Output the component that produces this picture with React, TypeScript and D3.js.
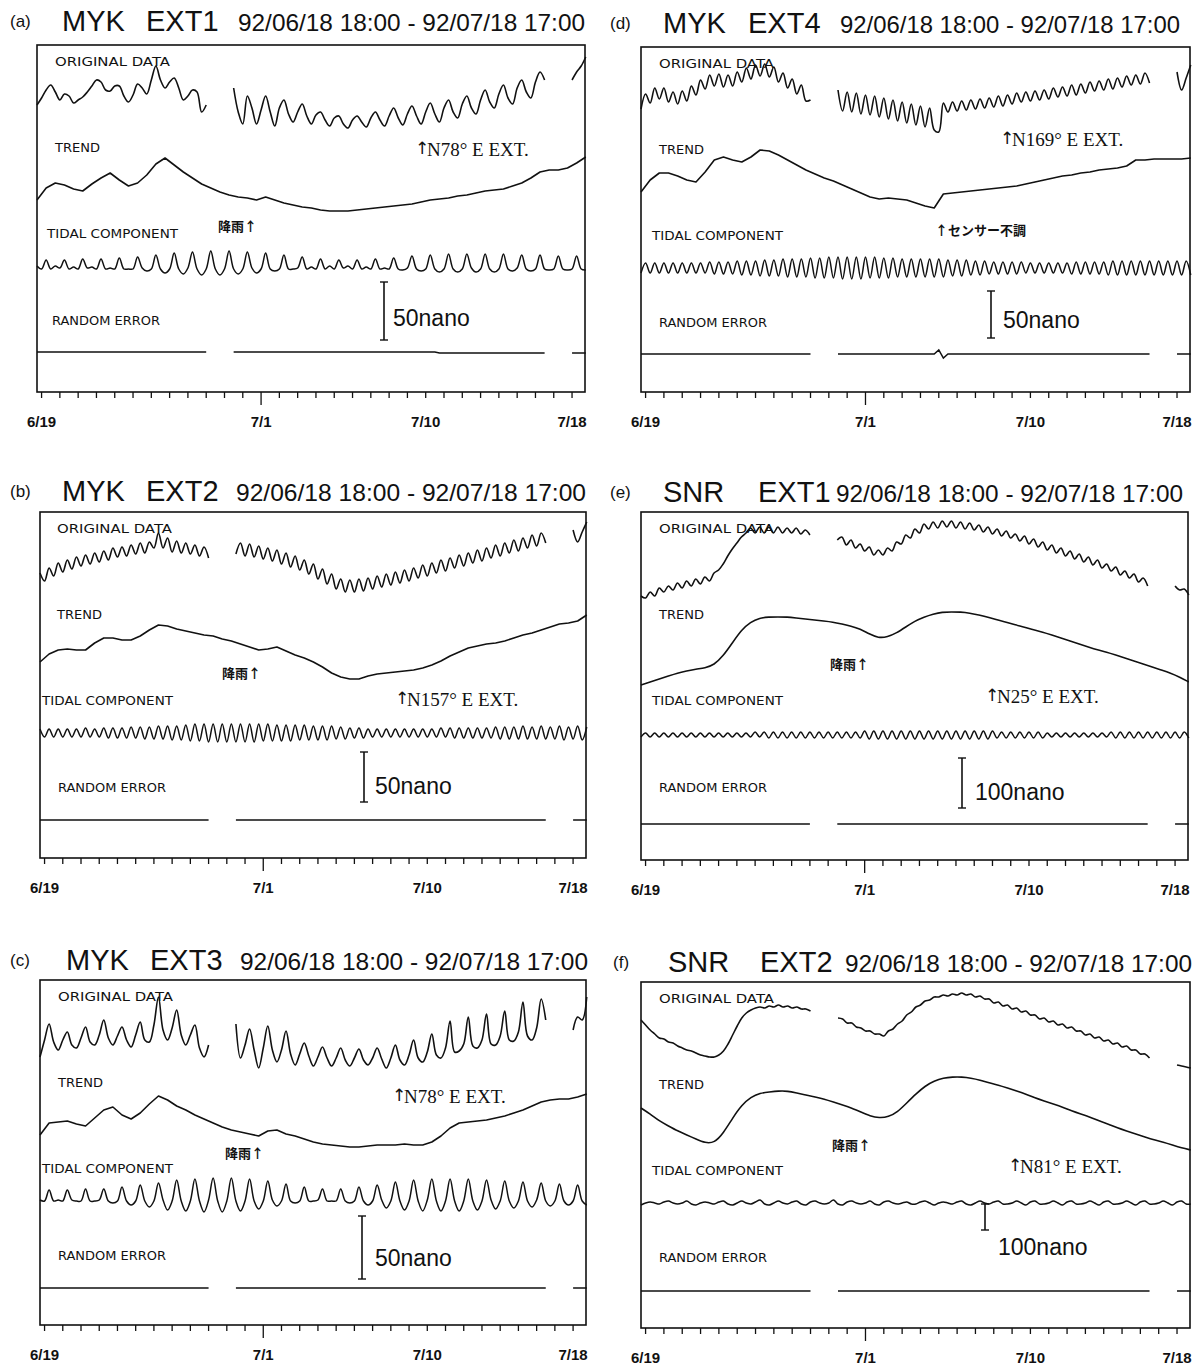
import React from "react";
import * as d3 from "d3";

// ---------- time frame ----------
const START = new Date(1992, 5, 18, 18, 0);
const END = new Date(1992, 6, 18, 17, 0);
const SAMPLE_H = 6; // original / tidal / random error sampling step (hours)
const TREND_H = 12; // trend sampling step (hours)

const labelDates = [new Date(1992, 5, 19), new Date(1992, 6, 1), new Date(1992, 6, 10), new Date(1992, 6, 18)];
const longTickDate = new Date(1992, 6, 1);

// ---------- panel texts ----------
const panelLetters = ["(a)", "(b)", "(c)", "(d)", "(e)", "(f)"];
const stations = ["MYK", "MYK", "MYK", "MYK", "SNR", "SNR"];
const sensors = ["EXT1", "EXT2", "EXT3", "EXT4", "EXT1", "EXT2"];
const directions = ["N78° E EXT.", "N157° E EXT.", "N78° E EXT.", "N169° E EXT.", "N25° E EXT.", "N81° E EXT."];
const notes = ["降雨↑", "降雨↑", "降雨↑", "↑センサー不調", "降雨↑", "降雨↑"];
const scaleNano = [50, 50, 50, 50, 100, 100];
const scaleUnits = [58, 50, 63, 47, 50, 26]; // scale bar length in digitised units
const seriesNames = ["ORIGINAL DATA", "TREND", "TIDAL COMPONENT", "RANDOM ERROR"];

// ---------- data (digitised units, 6-hour samples; null = no data) ----------
const origA = [
  20, 27, 35, 40, 33, 25, 31, 29, 22, 25, 28, 33, 39, 45, 43, 35, 34, 39, 39, 29, 23, 30, 41, 37, 31, 45, 59, 45, 37, 43, 47, 37, 25, 29, 35, 33, 13, 20,
  null, null, null, null, null,
  37, 13, 1, 29, 17, 1, 15, 29, 13, -1, 17, 25, 11, 3, 13, 21, 9, 1, 10, 13, 5, -1, 7, 9, 1, -3, 5, 9, 3, -2, 7, 13, 5, -1, 9,
  17, 7, 0, 11, 19, 9, 1, 13, 22, 11, 3, 17, 25, 13, 7, 21, 29, 17, 11, 25, 35, 23, 17, 31, 40, 27, 21, 37, 45, 33, 27, 43, 53, 45,
  null, null, null, null, null,
  45, 53, 59, 68,
];
const trendA = [15, 27, 32, 30, 26, 24, 31, 37, 42, 35, 29, 32, 40, 51, 57, 50, 43, 37, 31, 27, 23, 20, 18, 17, 15, 18, 15, 12, 10, 8, 7, 5, 4, 4, 4, 5, 6, 7, 8, 9, 10, 11, 13, 15, 16, 17, 19, 20, 22, 24, 25, 26, 29, 32, 37, 43, 45, 45, 47, 52, 58];
const tidalA = [
  0, -3, 6, -3, 0, -2, 6, -3, -1, -3, 7, -2, -1, -3, 7, -3, -2, -3, 8, -3, -3, -3, 9, -2, -5, -3, 11, -3, -7, -3, 13, -3, -8, -2, 14, -3, -9, -3, 15, -3,
  -9, -3, 15, -3, -8, -3, 14, -2, -7, -3, 13, -3, -5, -3, 11, -3, -3, -2, 9, -3, -1, -3, 7, -3, 0, -3, 6, -2, 0, -3, 6, -3, -1, -3, 7, -3, -2, -3, 8, -3,
  -4, -2, 10, -3, -5, -3, 11, -3, -6, -3, 12, -3, -6, -3, 12, -2, -6, -3, 12, -3, -6, -3, 12, -3, -5, -2, 11, -3, -5, -3, 11, -3, -4, -3, 10, -3, -4, -3, 10, -3,
  -4,
];
const errA = [
  0, 0, 0, 0, 0, 0, 0, 0, 0, 0, 0, 0, 0, 0, 0, 0, 0, 0, 0, 0, 0, 0, 0, 0, 0, 0, 0, 0, 0, 0, 0, 0, 0, 0, 0, 0, 0, 0,
  null, null, null, null, null,
  0, 0, 0, 0, 0, 0, 0, 0, 0, 0, 0, 0, 0, 0, 0, 0, 0, 0, 0, 0, 0, 0, 0, 0, 0, 0, 0, 0, 0, 0, 0, 0, 0, 0, 0, 0, 0, 0, 0, 0,
  0, 0, 0, 0, 0, -1, -1, -1, -1, -1, -1, -1, -1, -1, -1, -1, -1, -1, -1, -1, -1, -1, -1, -1, -1, -1, -1, -1, -1,
  null, null, null, null, null,
  -1, -1, -1, -1,
];

const origB = [
  27, 19, 32, 24, 37, 28, 40, 31, 43, 34, 45, 36, 47, 38, 49, 40, 52, 43, 53, 44, 55, 46, 57, 47, 58, 52, 67, 52, 62, 48, 59, 47, 57, 46, 55, 44, 53, 42,
  null, null, null, null, null,
  46, 57, 44, 56, 43, 54, 41, 52, 39, 50, 36, 47, 33, 44, 30, 40, 26, 36, 21, 31, 16, 26, 11, 21, 8, 20, 8, 21, 9, 22, 11, 24, 13, 26, 15,
  28, 17, 30, 19, 32, 22, 35, 24, 37, 27, 40, 29, 42, 32, 45, 34, 47, 37, 50, 39, 52, 42, 55, 44, 57, 47, 60, 49, 62, 52, 65, 54, 67, 57,
  null, null, null, null, null,
  70, 58, 68, 78,
];
const trendB = [28, 36, 40, 41, 40, 40, 47, 52, 52, 50, 50, 54, 60, 65, 64, 61, 59, 57, 55, 54, 51, 49, 46, 43, 40, 41, 43, 39, 35, 32, 28, 23, 17, 13, 11, 11, 14, 16, 17, 18, 19, 20, 22, 25, 29, 34, 38, 42, 44, 46, 47, 49, 52, 55, 57, 60, 63, 66, 67, 69, 75];
const tidalB = [
  4, -4, 4, -4, 4, -4, 4, -4, 4, -4, 5, -4, 4, -4, 5, -5,
  5, -5, 5, -5, 6, -5, 6, -6, 6, -6, 7, -6, 7, -7, 7, -7,
  8, -8, 9, -8, 9, -9, 9, -9, 9, -9, 9, -9, 9, -9, 9, -9, 9, -8, 9, -8, 8, -8, 8, -8, 8, -7, 8, -7, 7, -7, 7, -7, 7, -6, 6, -6,
  5, -5, 5, -5, 4, -4, 4, -4, 4, -4, 4, -4, 4, -4, 4, -4, 4, -4, 4, -4, 5, -4, 5, -5, 5, -5, 5, -5, 5, -5, 5, -5,
  6, -6, 6, -6, 6, -6, 7, -6, 6, -6, 7, -6, 6, -6, 7, -7, 6, -6, 7, -7, 6,
];
const errB = [
  0, 0, 0, 0, 0, 0, 0, 0, 0, 0, 0, 0, 0, 0, 0, 0, 0, 0, 0, 0, 0, 0, 0, 0, 0, 0, 0, 0, 0, 0, 0, 0, 0, 0, 0, 0, 0, 0,
  null, null, null, null, null,
  0, 0, 0, 0, 0, 0, 0, 0, 0, 0, 0, 0, 0, 0, 0, 0, 0, 0, 0, 0, 0, 0, 0, 0, 0, 0, 0, 0, 0, 0, 0, 0, 0, 0, 0, 0, 0, 0, 0, 0,
  0, 0, 0, 0, 0, 0, 0, 0, 0, 0, 0, 0, 0, 0, 0, 0, 0, 0, 0, 0, 0, 0, 0, 0, 0, 0, 0, 0, 0,
  null, null, null, null, null,
  0, 0, 0, 0,
];

const origC = [
  3, 20, 36, 18, 10, 20, 28, 15, 12, 22, 33, 18, 15, 25, 40, 22, 15, 24, 33, 20, 13, 25, 38, 20, 18, 35, 63, 30, 20, 32, 50, 25, 15, 25, 35, 12, 3, 15,
  null, null, null, null, null,
  36, 2, 15, 31, 10, -8, 12, 34, 10, -2, 10, 29, 6, -5, 6, 17, 4, -6, 3, 13, 2, -6, 2, 12, 0, -6, 2, 11, 0, -5, 2, 12, 1,
  -8, 2, 15, 0, -5, 5, 20, 2, -2, 8, 26, 5, 2, 12, 39, 8, 9, 16, 43, 14, 12, 20, 46, 16, 15, 24, 49, 20, 19, 28, 58, 24, 20, 32, 61, 40,
  null, null, null, null, null,
  30, 43, 40, 63,
];
const trendC = [25, 37, 38, 39, 36, 34, 42, 50, 53, 45, 41, 47, 56, 64, 60, 54, 50, 45, 41, 37, 33, 30, 28, 26, 24, 29, 30, 26, 24, 21, 18, 16, 15, 14, 13, 13, 14, 15, 15, 15, 16, 15, 15, 18, 24, 32, 37, 38, 39, 40, 42, 44, 47, 50, 54, 58, 60, 61, 61, 63, 66];
const tidalC = [
  -2, -3, 8, -3, -2, -3, 8, -2, -3, -3, 9, -3, -3, -2, 9, -3, -5, -3, 11, -3, -7, -3, 13, -3, -9, -3, 15, -2, -12, -3, 18, -3, -13, -3, 19, -3, -14, -2, 20, -3,
  -14, -3, 20, -3, -13, -3, 19, -3, -11, -3, 17, -2, -8, -3, 14, -3, -5, -3, 11, -3, -3, -2, 9, -3, -3, -3, 9, -3, -5, -3, 11, -3, -7, -3, 13, -2, -10, -3, 16, -3,
  -12, -3, 18, -3, -13, -2, 19, -3, -13, -3, 19, -3, -13, -3, 19, -3, -12, -3, 18, -2, -11, -3, 17, -3, -10, -3, 16, -3, -9, -2, 15, -3, -8, -3, 14, -3, -7, -3, 13, -3,
  -7,
];
const errC = [
  0, 0, 0, 0, 0, 0, 0, 0, 0, 0, 0, 0, 0, 0, 0, 0, 0, 0, 0, 0, 0, 0, 0, 0, 0, 0, 0, 0, 0, 0, 0, 0, 0, 0, 0, 0, 0, 0,
  null, null, null, null, null,
  0, 0, 0, 0, 0, 0, 0, 0, 0, 0, 0, 0, 0, 0, 0, 0, 0, 0, 0, 0, 0, 0, 0, 0, 0, 0, 0, 0, 0, 0, 0, 0, 0, 0, 0, 0, 0, 0, 0, 0,
  0, 0, 0, 0, 0, 0, 0, 0, 0, 0, 0, 0, 0, 0, 0, 0, 0, 0, 0, 0, 0, 0, 0, 0, 0, 0, 0, 0, 0,
  null, null, null, null, null,
  0, 0, 0, 0,
];

const origD = [
  31, 46, 37, 52, 41, 52, 38, 48, 36, 49, 39, 54, 45, 60, 51, 65, 54, 66, 53, 65, 54, 68, 58, 72, 61, 75, 64, 76, 63, 73, 58, 67, 52, 61, 46, 55, 39, 40,
  null, null, null, null, null,
  50, 29, 48, 28, 47, 26, 45, 25, 44, 23, 42, 21, 40, 19, 38, 17, 36, 15, 34, 13, 32, 10, 8, 37, 28, 38, 29, 39, 30, 40, 31, 41, 32, 42, 33,
  44, 34, 45, 36, 47, 38, 48, 39, 49, 40, 50, 41, 52, 43, 53, 44, 55, 45, 56, 47, 58, 49, 59, 50, 61, 51, 62, 53, 64, 55, 65, 56, 67, 57,
  null, null, null, null, null,
  68, 50, 62, 75,
];
const trendD = [23, 35, 42, 42, 39, 35, 33, 43, 55, 58, 55, 53, 58, 65, 64, 60, 55, 50, 45, 41, 37, 34, 30, 26, 22, 18, 16, 17, 16, 15, 12, 9, 7, 21, 22, 23, 24, 25, 26, 27, 28, 29, 31, 33, 35, 37, 39, 40, 42, 43, 45, 46, 47, 49, 55, 55, 56, 56, 56, 56, 57];
const tidalD = [
  -5, 5, -5, 5, -5, 5, -5, 5, -5, 5, -5, 5, -5, 5, -5, 6, -6, 6, -6, 6, -6, 7, -7, 7,
  -7, 7, -8, 8, -8, 8, -8, 9, -9, 9, -9, 9,
  -9, 10, -10, 10, -10, 11, -10, 11, -11, 11, -11, 11, -11, 11, -10, 11, -10, 10, -10, 10, -9, 9, -9, 9, -9, 9, -9, 9, -9, 9, -9, 8, -8, 8, -8, 8,
  -7, 7, -7, 7, -6, 6, -6, 6, -6, 6, -6, 6, -5, 5, -5, 5, -5, 5, -5, 5, -5, 5, -6, 6, -6, 6, -6, 6,
  -6, 6, -7, 7, -7, 7, -7, 7, -7, 7, -7, 7, -7, 7, -7, 7, -7, 7, -7, 7, -7,
];
const errD = [
  0, 0, 0, 0, 0, 0, 0, 0, 0, 0, 0, 0, 0, 0, 0, 0, 0, 0, 0, 0, 0, 0, 0, 0, 0, 0, 0, 0, 0, 0, 0, 0, 0, 0, 0, 0, 0, 0,
  null, null, null, null, null,
  0, 0, 0, 0, 0, 0, 0, 0, 0, 0, 0, 0, 0, 0, 0, 0, 0, 0, 0, 0, 0, 0, 4, -4, 0, 0, 0, 0, 0, 0, 0, 0, 0, 0, 0, 0, 0, 0, 0,
  0, 0, 0, 0, 0, 0, 0, 0, 0, 0, 0, 0, 0, 0, 0, 0, 0, 0, 0, 0, 0, 0, 0, 0, 0, 0, 0, 0, 0, 0,
  null, null, null, null, null,
  0, 0, 0, 0,
];

const origE = [
  4, 2, 8, 4, 12, 8, 14, 10, 17, 12, 19, 14, 21, 16, 23, 19, 27, 30, 36, 44, 51, 57, 63, 67, 72, 67, 73, 67, 73, 67, 73, 67, 72, 67, 72, 66, 70, 65,
  null, null, null, null, null,
  60, 63, 55, 60, 52, 56, 49, 53, 45, 50, 45, 52, 49, 58, 56, 65, 62, 71, 67, 76, 71, 78, 72, 79, 73, 79, 72, 78, 71, 77, 70, 75, 68, 73, 66,
  71, 64, 69, 62, 66, 59, 64, 56, 61, 53, 58, 50, 55, 47, 52, 44, 49, 41, 46, 38, 43, 35, 40, 32, 36, 29, 33, 25, 29, 22, 26, 18, 22, 14,
  null, null, null, null, null,
  14, 10, 11, 5,
];
const trendE = [5, 8, 11, 14, 17, 19, 21, 22, 25, 34, 47, 60, 68, 72, 73, 73, 73, 72, 71, 70, 69, 68, 66, 64, 61, 56, 52, 53, 57, 63, 69, 73, 76, 78, 78, 78, 77, 75, 73, 70, 68, 65, 63, 60, 58, 55, 52, 49, 46, 43, 40, 38, 35, 32, 29, 26, 23, 20, 17, 13, 8];
const tidalE = [
  -2, 2, -2, 2, -2, 2, -2, 2, -2, 2, -2, 2, -2, 2, -2, 2, -2, 2, -2, 2, -2, 2, -2, 2, -2, 3, -2, 3, -3, 3, -3, 3, -3, 3, -3, 3, -3, 3, -3, 3, -3, 3, -3, 3, -3, 3, -3, 3,
  -3, 4, -4, 4, -4, 4, -4, 4, -4, 4, -4, 4, -4, 4, -4, 4, -4, 4, -4, 4, -4, 4, -4, 4, -4, 4, -4, 4, -4, 4, -3, 3, -3, 3, -3, 3, -3, 3, -3, 3,
  -3, 2, -2, 2, -2, 2, -2, 2, -2, 2, -2, 2, -2, 2, -2, 3,
  -3, 3, -3, 3, -3, 3, -3, 3, -3, 3, -3, 3, -3, 3, -3, 3, -3,
];
const errE = [
  0, 0, 0, 0, 0, 0, 0, 0, 0, 0, 0, 0, 0, 0, 0, 0, 0, 0, 0, 0, 0, 0, 0, 0, 0, 0, 0, 0, 0, 0, 0, 0, 0, 0, 0, 0, 0, 0,
  null, null, null, null, null,
  0, 0, 0, 0, 0, 0, 0, 0, 0, 0, 0, 0, 0, 0, 0, 0, 0, 0, 0, 0, 0, 0, 0, 0, 0, 0, 0, 0, 0, 0, 0, 0, 0, 0, 0, 0, 0, 0, 0, 0,
  0, 0, 0, 0, 0, 0, 0, 0, 0, 0, 0, 0, 0, 0, 0, 0, 0, 0, 0, 0, 0, 0, 0, 0, 0, 0, 0, 0, 0,
  null, null, null, null, null,
  0, 0, 0, 0,
];

const origF = [
  50, 45, 40, 36, 32, 31, 28, 27, 24, 22, 20, 19, 17, 15, 14, 13, 13, 15, 19, 26, 35, 44, 52, 57, 60, 62, 63, 62, 64, 63, 65, 63, 64, 62, 63, 61, 61, 59,
  null, null, null, null, null,
  52, 51, 47, 47, 43, 42, 39, 39, 36, 36, 34, 39, 41, 46, 49, 55, 58, 63, 65, 69, 70, 73, 73, 75, 74, 76, 75, 77, 75, 76, 73, 74, 71, 71, 67,
  68, 64, 65, 61, 62, 58, 59, 55, 55, 51, 52, 48, 49, 45, 46, 42, 43, 39, 39, 35, 36, 32, 33, 29, 30, 26, 27, 23, 24, 20, 20, 16, 16, 12,
  null, null, null, null, null,
  5, 4, 3, 2,
];
const trendF = [47, 41, 34, 29, 24, 20, 16, 12, 12, 22, 37, 50, 58, 62, 63, 64, 64, 62, 60, 58, 56, 53, 50, 47, 43, 39, 37, 38, 43, 52, 61, 69, 74, 77, 78, 78, 77, 75, 72, 70, 67, 64, 61, 57, 54, 51, 48, 44, 41, 38, 34, 31, 27, 24, 21, 18, 15, 13, 10, 7, 5];
const tidalF = [
  -2, 0, 1, 0, -1, 1, 2, 0, -1, 0, 2, -1, -2, 0, 1, 0, -1, 1, 2, -1, -2, 0, 2, 0, -1, 1, 3, -1, -2, 0, 2, 0, -1, 1, 2, -1, -2, 1, 2, 0,
  -1, 0, 3, -1, -2, 1, 2, 0, -1, 0, 2, -1, -2, 1, 2, 0, -1, 0, 1, -1, -1, 1, 2, 0, -2, 0, 1, 0, -1, 1, 2, -1, -2, 0, 2, 0, -1, 1, 2, -1,
  -1, 0, 2, 0, -2, 1, 2, -1, -1, 0, 2, 0, -2, 1, 2, -1, -1, 0, 2, 0, -2, 1, 2, -1, -1, 0, 2, 0, -2, 1, 2, -1, -1, 0, 2, 0, -2, 1, 2, -1,
  -1,
];
const errF = [
  0, 0, 0, 0, 0, 0, 0, 0, 0, 0, 0, 0, 0, 0, 0, 0, 0, 0, 0, 0, 0, 0, 0, 0, 0, 0, 0, 0, 0, 0, 0, 0, 0, 0, 0, 0, 0, 0,
  null, null, null, null, null,
  0, 0, 0, 0, 0, 0, 0, 0, 0, 0, 0, 0, 0, 0, 0, 0, 0, 0, 0, 0, 0, 0, 0, 0, 0, 0, 0, 0, 0, 0, 0, 0, 0, 0, 0, 0, 0, 0, 0, 0,
  0, 0, 0, 0, 0, 0, 0, 0, 0, 0, 0, 0, 0, 0, 0, 0, 0, 0, 0, 0, 0, 0, 0, 0, 0, 0, 0, 0, 0,
  null, null, null, null, null,
  0, 0, 0, 0,
];

const originals = [origA, origB, origC, origD, origE, origF];
const trends = [trendA, trendB, trendC, trendD, trendE, trendF];
const tidals = [tidalA, tidalB, tidalC, tidalD, tidalE, tidalF];
const errors = [errA, errB, errC, errD, errE, errF];

// ---------- layout (positions only) ----------
type Layout = {
  x0: number; top: number; w: number; h: number;
  titleY: number; letterX: number; stationX: number; sensorX: number; dateX: number; dateW: number;
  base: number[]; labelX: number[];
  dir: number[]; note: number[]; bar: number[]; barLabel: number[];
  smoothTrend: boolean;
};
const LAYOUT: Layout[] = [
  { x0: 37, top: 45, w: 548, h: 347, titleY: 21, letterX: 10, stationX: 62, sensorX: 146, dateX: 238, dateW: 347,
    base: [80, 170, 221, 307], labelX: [18, 18, 10, 15], dir: [415, 148], note: [218, 225], bar: [384, 282], barLabel: [393, 318], smoothTrend: false },
  { x0: 40, top: 512, w: 546, h: 346, titleY: 491, letterX: 10, stationX: 62, sensorX: 146, dateX: 236, dateW: 350,
    base: [88, 178, 221, 308], labelX: [17, 17, 2, 18], dir: [395, 698], note: [222, 672], bar: [364, 752], barLabel: [375, 786], smoothTrend: false },
  { x0: 40, top: 980, w: 546, h: 345, titleY: 960, letterX: 10, stationX: 66, sensorX: 150, dateX: 240, dateW: 348,
    base: [80, 180, 218, 308], labelX: [18, 18, 2, 18], dir: [392, 1095], note: [225, 1152], bar: [362, 1216], barLabel: [375, 1258], smoothTrend: false },
  { x0: 641, top: 47, w: 549, h: 345, titleY: 23, letterX: 610, stationX: 663, sensorX: 748, dateX: 840, dateW: 340,
    base: [93, 168, 221, 307], labelX: [18, 18, 11, 18], dir: [1000, 138], note: [935, 229], bar: [991, 291], barLabel: [1003, 320], smoothTrend: false },
  { x0: 641, top: 512, w: 547, h: 348, titleY: 492, letterX: 610, stationX: 663, sensorX: 758, dateX: 836, dateW: 347,
    base: [88, 178, 223, 312], labelX: [18, 18, 11, 18], dir: [985, 695], note: [830, 663], bar: [962, 758], barLabel: [975, 792], smoothTrend: true },
  { x0: 641, top: 982, w: 549, h: 346, titleY: 962, letterX: 613, stationX: 668, sensorX: 760, dateX: 845, dateW: 347,
    base: [88, 173, 221, 309], labelX: [18, 18, 11, 18], dir: [1008, 1165], note: [832, 1144], bar: [985, 1204], barLabel: [998, 1247], smoothTrend: true },
];
const LABEL_Y = [17, 103, 189, 276];
const LABEL_W = [115, 45, 131, 108];

const SANS = "'Liberation Sans', Arial, Helvetica, sans-serif";
const SERIF = "'Liberation Serif', 'Times New Roman', serif";
const PLOT = "'DejaVu Sans', 'Liberation Sans', sans-serif";
const CJK = "'Noto Sans CJK JP', 'Noto Sans CJK SC', sans-serif";
const INK = "#111";

const fmtTitle = d3.timeFormat("%y/%m/%d %H:%M");
const fmtTick = d3.timeFormat("%-m/%-d");

function Panel({ i }: { i: number }) {
  const L = LAYOUT[i];
  const x = d3.scaleTime().domain([START, END]).range([L.x0, L.x0 + L.w]);
  const bottom = L.top + L.h;
  const band = (rel: number) => d3.scaleLinear().domain([0, 1]).range([L.top + rel, L.top + rel - 1]);
  const yO = band(L.base[0]);
  const yT = band(L.base[1]);
  const yD = band(L.base[2]);
  const yE = band(L.base[3]);

  const path = (arr: (number | null)[], stepH: number, y: d3.ScaleLinear<number, number>, curve: d3.CurveFactory) =>
    d3
      .line<number | null>()
      .defined((d) => d !== null)
      .x((_, k) => x(d3.timeHour.offset(START, k * stepH)))
      .y((d) => y(d as number))
      .curve(curve)(arr) || "";

  const wiggle = d3.curveCatmullRom.alpha(0.5);
  const ticks = d3.timeDay.range(d3.timeDay.ceil(START), END);
  const barLen = yE(0) - yE(scaleUnits[i]);
  const [bx, by] = L.bar;
  const dateText = `${fmtTitle(START)} - ${fmtTitle(END)}`;

  return (
    <g>
      {/* title */}
      <text x={L.letterX} y={L.titleY} fontFamily={SANS} fontSize={17} dominantBaseline="central" fill={INK}>{panelLetters[i]}</text>
      <text x={L.stationX} y={L.titleY} fontFamily={SANS} fontSize={29} dominantBaseline="central" fill={INK}>{stations[i]}</text>
      <text x={L.sensorX} y={L.titleY} fontFamily={SANS} fontSize={29} dominantBaseline="central" fill={INK}>{sensors[i]}</text>
      <text x={L.dateX} y={L.titleY + 1} fontFamily={SANS} fontSize={24} dominantBaseline="central" fill={INK}
        textLength={L.dateW} lengthAdjust="spacingAndGlyphs">{dateText}</text>

      {/* frame */}
      <rect x={L.x0} y={L.top} width={L.w} height={L.h} fill="none" stroke={INK} strokeWidth={1.6} />

      {/* series labels */}
      {seriesNames.map((s, k) => (
        <text key={s} x={L.x0 + L.labelX[k]} y={L.top + LABEL_Y[k]} fontFamily={PLOT} fontSize={12}
          dominantBaseline="central" fill={INK} textLength={LABEL_W[k]} lengthAdjust="spacingAndGlyphs">{s}</text>
      ))}

      {/* curves */}
      <path d={path(originals[i], SAMPLE_H, yO, wiggle)} fill="none" stroke={INK} strokeWidth={1.6} strokeLinejoin="round" />
      <path d={path(trends[i], TREND_H, yT, L.smoothTrend ? d3.curveBasis : d3.curveLinear)} fill="none" stroke={INK} strokeWidth={1.6} strokeLinejoin="round" />
      <path d={path(tidals[i], SAMPLE_H, yD, wiggle)} fill="none" stroke={INK} strokeWidth={1.5} strokeLinejoin="round" />
      <path d={path(errors[i], SAMPLE_H, yE, d3.curveLinear)} fill="none" stroke={INK} strokeWidth={1.5} />

      {/* direction */}
      <text x={L.dir[0]} y={L.dir[1]} fontFamily={"'DejaVu Sans', sans-serif"} fontSize={17} dominantBaseline="central" fill={INK}>↑</text>
      <text x={L.dir[0] + 12} y={L.dir[1] + 1} fontFamily={SERIF} fontSize={19} dominantBaseline="central" fill={INK}>{directions[i]}</text>

      {/* note */}
      <text x={L.note[0]} y={L.note[1]} fontFamily={CJK} fontWeight={700} fontSize={13}
        dominantBaseline="central" fill={INK}>{notes[i]}</text>

      {/* scale bar */}
      <line x1={bx} x2={bx} y1={by} y2={by + barLen} stroke={INK} strokeWidth={1.6} />
      <line x1={bx - 4} x2={bx + 4} y1={by} y2={by} stroke={INK} strokeWidth={1.4} />
      <line x1={bx - 4} x2={bx + 4} y1={by + barLen} y2={by + barLen} stroke={INK} strokeWidth={1.4} />
      <text x={L.barLabel[0]} y={L.barLabel[1]} fontFamily={SANS} fontSize={23} dominantBaseline="central" fill={INK}>{`${scaleNano[i]}nano`}</text>

      {/* time axis */}
      {ticks.map((t) => (
        <line key={+t} x1={x(t)} x2={x(t)} y1={bottom} y2={bottom + (+t === +longTickDate ? 13 : 6)} stroke={INK} strokeWidth={1.3} />
      ))}
      {labelDates.map((t) => (
        <text key={+t} x={x(t)} y={bottom + 29} textAnchor="middle" fontFamily={SANS} fontWeight={700} fontSize={15}
          dominantBaseline="central" fill={INK}>{fmtTick(t)}</text>
      ))}
    </g>
  );
}

export default function App() {
  return (
    <svg width={1202} height={1365} viewBox="0 0 1202 1365" xmlns="http://www.w3.org/2000/svg"
      style={{ position: "absolute", left: 0, top: 0, background: "#fff" }}>
      <rect x={0} y={0} width={1202} height={1365} fill="#fff" />
      {LAYOUT.map((_, i) => <Panel key={i} i={i} />)}
    </svg>
  );
}
